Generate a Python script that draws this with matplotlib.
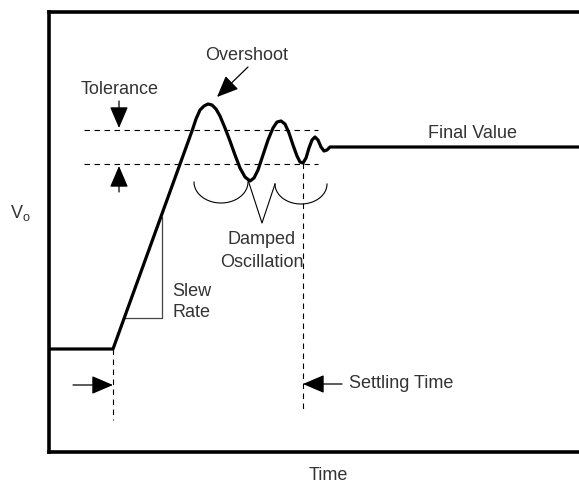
import matplotlib
matplotlib.use("Agg")
import matplotlib.pyplot as plt
import numpy as np

plt.rcParams['font.family'] = ['Liberation Sans', 'DejaVu Sans']

# waveform (pixel-like units, y grows downward)
wave_x = [49, 113, 192, 196, 200, 204, 208, 212, 216, 220, 225, 230, 235, 240,
          245, 250, 254, 258, 263, 268, 273, 277, 281, 285, 289, 293, 297, 300,
          303, 306, 309, 312, 315, 318, 321, 324, 327, 330, 579]
wave_y = [349, 349, 131, 119, 110, 106, 104, 105, 109, 116, 128, 141, 155, 168,
          177, 181, 178, 170, 155, 140, 128, 122, 121, 124, 133, 145, 156, 162,
          163, 158, 148, 140, 137, 140, 147, 151, 150, 147, 147]

tol_levels = [130, 164]
tol_x = [84, 318]
start_x, settle_x = 113, 303

slew_x = [125, 162, 162]
slew_y = [318, 318, 217]

brace_left = (221, 182, 27, 21)
brace_right = (301, 184, 26, 20)
v_x = [248, 262, 275]
v_y = [180, 223, 184]

txt = '#333333'

fig = plt.figure(figsize=(5.79, 4.83), dpi=100)
ax = fig.add_axes([49 / 579, 31 / 483, 530 / 579, 440 / 483])
ax.set_xlim(49, 579)
ax.set_ylim(452, 12)
ax.set_xticks([])
ax.set_yticks([])
for s in ['left', 'top', 'bottom']:
    ax.spines[s].set_linewidth(2.6)
ax.spines['right'].set_visible(False)

ax.plot(wave_x, wave_y, color='black', lw=2.3, solid_joinstyle='round', zorder=3)

dash = dict(color='black', lw=0.8, dashes=(5, 4))
for lv in tol_levels:
    ax.plot(tol_x, [lv, lv], **dash)
ax.plot([start_x, start_x], [349, 420], **dash)
ax.plot([settle_x, settle_x], [163, 412], **dash)

ax.plot(slew_x, slew_y, color='#444444', lw=0.9)

for cx, cy, a, b in [brace_left, brace_right]:
    th = np.linspace(0, np.pi, 60)
    ax.plot(cx - a * np.cos(th), cy + b * np.sin(th), color='black', lw=0.8)
ax.plot(v_x, v_y, color='black', lw=0.8)

arr = dict(arrowstyle='-|>,head_length=0.7,head_width=0.3', color='black',
           lw=0.9, mutation_scale=19, shrinkA=0, shrinkB=0)
ax.annotate('', xy=(119, 128), xytext=(119, 101), arrowprops=arr)
ax.annotate('', xy=(119, 166), xytext=(119, 192), arrowprops=arr)
ax.annotate('', xy=(217, 97), xytext=(248, 67), arrowprops=arr)
ax.annotate('', xy=(113, 385), xytext=(73, 385), arrowprops=arr)
ax.annotate('', xy=(303, 384), xytext=(342, 384), arrowprops=arr)

fs = 13
ax.text(120, 89, 'Tolerance', fontsize=fs, color=txt, ha='center', va='center')
ax.text(247, 55, 'Overshoot', fontsize=fs, color=txt, ha='center', va='center')
ax.text(262, 251, 'Damped\nOscillation', fontsize=fs, color=txt,
        ha='center', va='center', linespacing=1.4)
ax.text(172, 302, 'Slew\nRate', fontsize=fs, color=txt, ha='left',
        va='center', linespacing=1.35)
ax.text(472, 133, 'Final Value', fontsize=fs, color=txt, ha='center', va='center')
ax.text(349, 383, 'Settling Time', fontsize=fs, color=txt, ha='left', va='center')

fig.text(10 / 579, 1 - 213 / 483, r'V$_\mathregular{o}$', fontsize=fs, color=txt,
         ha='left', va='center')
fig.text(328 / 579, 1 - 476 / 483, 'Time', fontsize=fs, color=txt,
         ha='center', va='center')

fig.savefig('out.png', dpi=100)
